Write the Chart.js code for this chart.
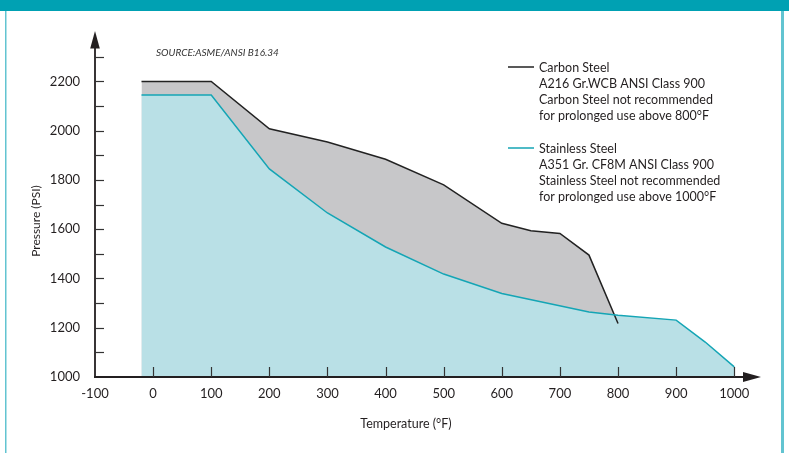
<!DOCTYPE html>
<html><head><meta charset="utf-8">
<script src="https://cdn.jsdelivr.net/npm/chart.js@4/dist/chart.umd.min.js"></script>
<style>html,body{margin:0;padding:0;background:#fff;overflow:hidden}canvas{display:block}</style>
</head><body>
<canvas id="c" width="789" height="453" style="width:789px;height:453px"></canvas>
<script>
// ---- data ----
const carbonTemps = [-20, 100, 200, 300, 400, 500, 600, 650, 700, 750, 800];
const carbonPsi   = [2200, 2200, 2008, 1954, 1884, 1780, 1624, 1594, 1583, 1495, 1217];
const stainlessTemps = [-20, 100, 200, 300, 400, 500, 600, 750, 800, 900, 950, 1000];
const stainlessPsi   = [2145, 2145, 1845, 1666, 1528, 1418, 1339, 1264, 1251, 1231, 1142, 1041];
const xTickValues = [-100, 0, 100, 200, 300, 400, 500, 600, 700, 800, 900, 1000];
const yTickValues = [1000, 1100, 1200, 1300, 1400, 1500, 1600, 1700, 1800, 1900, 2000, 2100, 2200, 2300];
const yLabelValues = [1000, 1200, 1400, 1600, 1800, 2000, 2200];
const carbonLegend = ['Carbon Steel', 'A216 Gr.WCB ANSI Class 900', 'Carbon Steel not recommended', 'for prolonged use above 800°F'];
const stainlessLegend = ['Stainless Steel', 'A351 Gr. CF8M ANSI Class 900', 'Stainless Steel not recommended', 'for prolonged use above 1000°F'];
const sourceText = 'SOURCE:ASME/ANSI B16.34';
const xTitle = 'Temperature (°F)';
const yTitle = 'Pressure (PSI)';

const FONT = 'Lato, "Open Sans", sans-serif';
const TXT = '#231f20';

const deco = {
  id: 'deco',
  beforeDraw(chart) {
    const c = chart.ctx;
    c.save();
    c.fillStyle = '#fff'; c.fillRect(0, 0, 789, 453);
    c.fillStyle = '#00a1b3'; c.fillRect(0, 0, 789, 11);
    c.fillStyle = '#62c4d1'; c.fillRect(5, 11, 1.5, 442); c.fillRect(781, 11, 3, 442);
    c.restore();
  },
  afterDatasetsDraw(chart) {
    const c = chart.ctx, xs = chart.scales.x, ys = chart.scales.y;
    const ax = xs.getPixelForValue(-100), ay = ys.getPixelForValue(1000);
    const right = chart.chartArea.right, top = chart.chartArea.top;
    c.save();
    c.strokeStyle = TXT; c.fillStyle = TXT; c.lineWidth = 1.8;
    c.beginPath(); c.moveTo(ax, ay + 0.9); c.lineTo(ax, top + 10); c.stroke();
    c.beginPath(); c.moveTo(ax - 0.9, ay); c.lineTo(right - 10, ay); c.stroke();
    // arrows
    c.beginPath(); c.moveTo(ax, top); c.lineTo(ax - 4.8, top + 17.5); c.lineTo(ax + 4.8, top + 17.5); c.closePath(); c.fill();
    c.beginPath(); c.moveTo(right, ay); c.lineTo(right - 18, ay - 5); c.lineTo(right - 18, ay + 5); c.closePath(); c.fill();
    // tick marks (inward)
    c.lineWidth = 1.2; c.strokeStyle = '#333';
    yTickValues.forEach(v => { if (v === 1000) return; const p = Math.round(ys.getPixelForValue(v)) + 0.5; c.beginPath(); c.moveTo(ax, p); c.lineTo(ax + 9, p); c.stroke(); });
    xTickValues.forEach(v => { if (v === -100) return; const p = Math.round(xs.getPixelForValue(v)) + 0.5; c.beginPath(); c.moveTo(p, ay); c.lineTo(p, ay - 10); c.stroke(); });
    c.restore();
  },
  afterDraw(chart) {
    const c = chart.ctx;
    c.save();
    c.fillStyle = '#333';
    c.font = 'italic 10px ' + FONT; c.textBaseline = 'middle'; c.textAlign = 'left';
    c.fillText(sourceText, 156, 52.5);
    // legend
    c.fillStyle = TXT; c.font = '12.5px ' + FONT;
    const drawLeg = (lines, color, y0) => {
      c.strokeStyle = color; c.lineWidth = 1.5;
      c.beginPath(); c.moveTo(508, y0); c.lineTo(534, y0); c.stroke();
      lines.forEach((t, i) => c.fillText(t, 539, y0 + i * 16.2 + 0.5));
    };
    drawLeg(carbonLegend, chart.data.datasets[1].borderColor, 67);
    drawLeg(stainlessLegend, chart.data.datasets[0].borderColor, 148);
    // axis titles
    c.font = '12.5px ' + FONT; c.textAlign = 'center';
    c.fillText(xTitle, 406, 424);
    c.font = '12px ' + FONT;
    c.translate(36, 221); c.rotate(-Math.PI / 2); c.fillText(yTitle, 0, 0);
    c.restore();
  }
};

new Chart(document.getElementById('c'), {
  type: 'line',
  data: {
    datasets: [
      { label: 'Stainless Steel', data: stainlessTemps.map((t, i) => ({ x: t, y: stainlessPsi[i] })),
        borderColor: '#14a5b5', backgroundColor: '#b9e0e6', borderWidth: 1.5, fill: 'start', pointRadius: 0, tension: 0 },
      { label: 'Carbon Steel', data: carbonTemps.map((t, i) => ({ x: t, y: carbonPsi[i] })),
        borderColor: '#222222', backgroundColor: '#c7c7c9', borderWidth: 1.5, fill: 'start', pointRadius: 0, tension: 0 }
    ]
  },
  options: {
    responsive: false, animation: false, devicePixelRatio: 1,
    layout: { padding: { left: 0, top: 31, right: 28, bottom: 0 } },
    plugins: { legend: { display: false }, tooltip: { enabled: false }, filler: { drawTime: 'beforeDatasetsDraw' } },
    scales: {
      x: { type: 'linear', min: -100, max: 1046,
        afterFit: s => { s.height = 76; },
        afterBuildTicks: s => { s.ticks = xTickValues.map(v => ({ value: v })); },
        grid: { display: false }, border: { display: false },
        ticks: { autoSkip: false, maxRotation: 0, padding: 1, color: TXT, font: { family: FONT, size: 13 },
          callback: v => String(v) } },
      y: { type: 'linear', min: 1000, max: 2405,
        afterFit: s => { s.width = 95; },
        afterBuildTicks: s => { s.ticks = yLabelValues.map(v => ({ value: v })); },
        grid: { display: false }, border: { display: false },
        ticks: { autoSkip: false, padding: 7, color: TXT, font: { family: FONT, size: 13 },
          callback: v => String(v) } }
    }
  },
  plugins: [deco]
});
</script>
</body></html>
